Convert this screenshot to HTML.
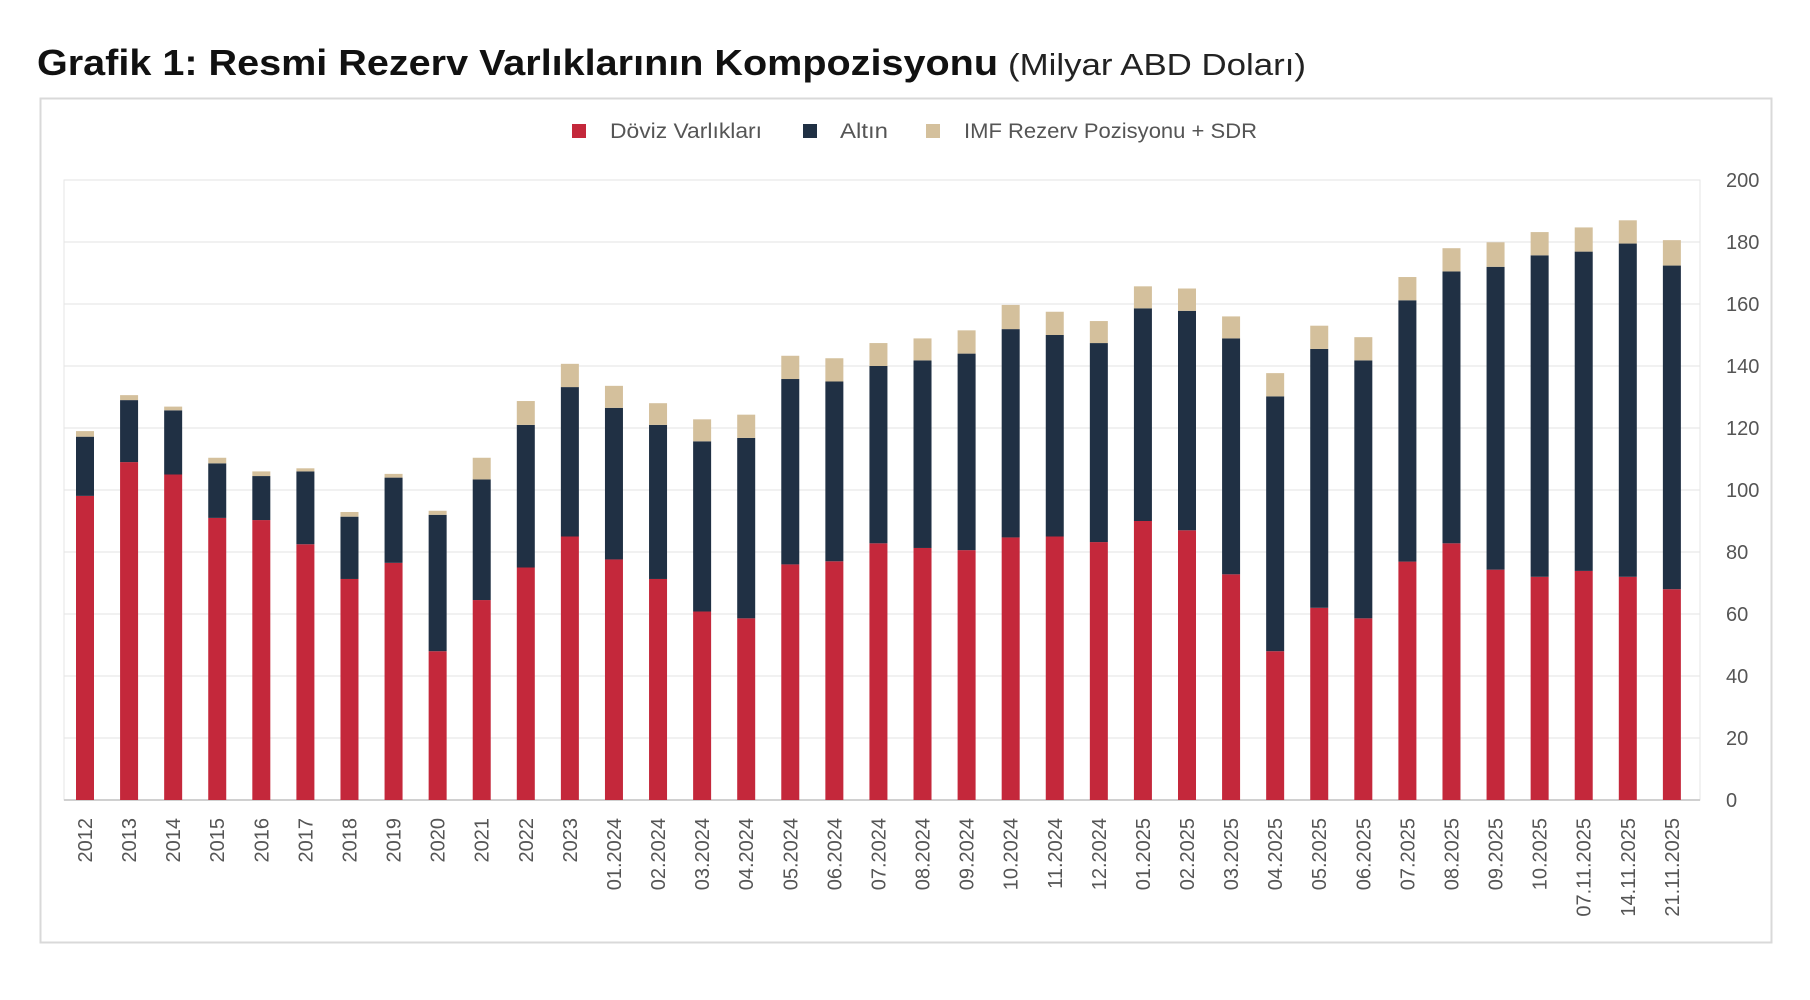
<!DOCTYPE html>
<html><head><meta charset="utf-8"><style>
body{margin:0;background:#fff;}
svg{display:block;font-family:"Liberation Sans",sans-serif;}
</style></head><body>
<svg id="s" width="1810" height="1000" xmlns="http://www.w3.org/2000/svg">
<text x="37" y="75" font-size="36" font-weight="bold" fill="#111" textLength="961" lengthAdjust="spacingAndGlyphs">Grafik 1: Resmi Rezerv Varlıklarının Kompozisyonu</text>
<text x="1008" y="75" font-size="31" fill="#222" textLength="298" lengthAdjust="spacingAndGlyphs">(Milyar ABD Doları)</text>
<rect x="40.5" y="98.5" width="1731" height="844" fill="none" stroke="#d9d9d9" stroke-width="2"/>
<rect x="572" y="124" width="14" height="14" fill="#c4283b"/>
<text x="610" y="138" font-size="21" fill="#555" textLength="152" lengthAdjust="spacingAndGlyphs">Döviz Varlıkları</text>
<rect x="803" y="124" width="14" height="14" fill="#203044"/>
<text x="840" y="138" font-size="21" fill="#555" textLength="48" lengthAdjust="spacingAndGlyphs">Altın</text>
<rect x="926" y="124" width="14" height="14" fill="#d4c09c"/>
<text x="964" y="138" font-size="21" fill="#555" textLength="293" lengthAdjust="spacingAndGlyphs">IMF Rezerv Pozisyonu + SDR</text>
<g id="g"></g>
</svg>
<script>
var d=[["2012",98.1,117.2,119],["2013",109,129,130.6],["2014",105,125.7,126.9],["2015",91,108.6,110.4],["2016",90.3,104.5,106],["2017",82.5,106,107],["2018",71.3,91.4,92.9],["2019",76.5,104,105.2],["2020",48,92,93.3],["2021",64.5,103.4,110.4],["2022",75,121,128.7],["2023",85,133.2,140.7],["01.2024",77.6,126.5,133.6],["02.2024",71.3,121,128],["03.2024",60.8,115.7,122.8],["04.2024",58.6,116.8,124.3],["05.2024",76,135.8,143.3],["06.2024",77,135,142.5],["07.2024",82.8,140,147.4],["08.2024",81.3,141.8,148.9],["09.2024",80.6,144,151.5],["10.2024",84.7,151.9,159.7],["11.2024",85,150,157.5],["12.2024",83.2,147.4,154.5],["01.2025",90,158.6,165.7],["02.2025",87,157.8,165],["03.2025",72.8,148.9,156],["04.2025",48,130.2,137.7],["05.2025",62,145.5,153],["06.2025",58.6,141.8,149.3],["07.2025",76.9,161.2,168.7],["08.2025",82.8,170.5,178],["09.2025",74.3,172,179.9],["10.2025",72,175.7,183.2],["07.11.2025",73.9,176.9,184.7],["14.11.2025",72,179.5,187],["21.11.2025",68,172.4,180.6]];
var Z=800,K=3.1,h='';
h+='<rect x="64" y="180" width="1636" height="620" fill="none" stroke="#e6e6e6"/>';
for(var v=0;v<=200;v+=20){var y=Z-v*K;h+='<line x1="64" x2="1700" y1="'+y+'" y2="'+y+'" stroke="'+(v?'#e3e3e3':'#d0d0d0')+'" stroke-width="'+(v?1:2)+'"/>';h+='<text x="1726" y="'+(y+7)+'" font-size="20" fill="#555">'+v+'</text>';}
d.forEach(function(r,i){var c=85+i*44.08,x=c-9;
function b(a,t,col){h+='<rect x="'+x+'" y="'+(Z-t*K)+'" width="18" height="'+((t-a)*K)+'" fill="'+col+'"/>';}
b(0,r[1],'#c4283b');b(r[1],r[2],'#203044');b(r[2],r[3],'#d4c09c');
h+='<text transform="translate('+(c+7)+',818) rotate(-90)" text-anchor="end" font-size="20" fill="#555">'+r[0]+'</text>';});
document.getElementById('g').innerHTML=h;
</script>
</body></html>
